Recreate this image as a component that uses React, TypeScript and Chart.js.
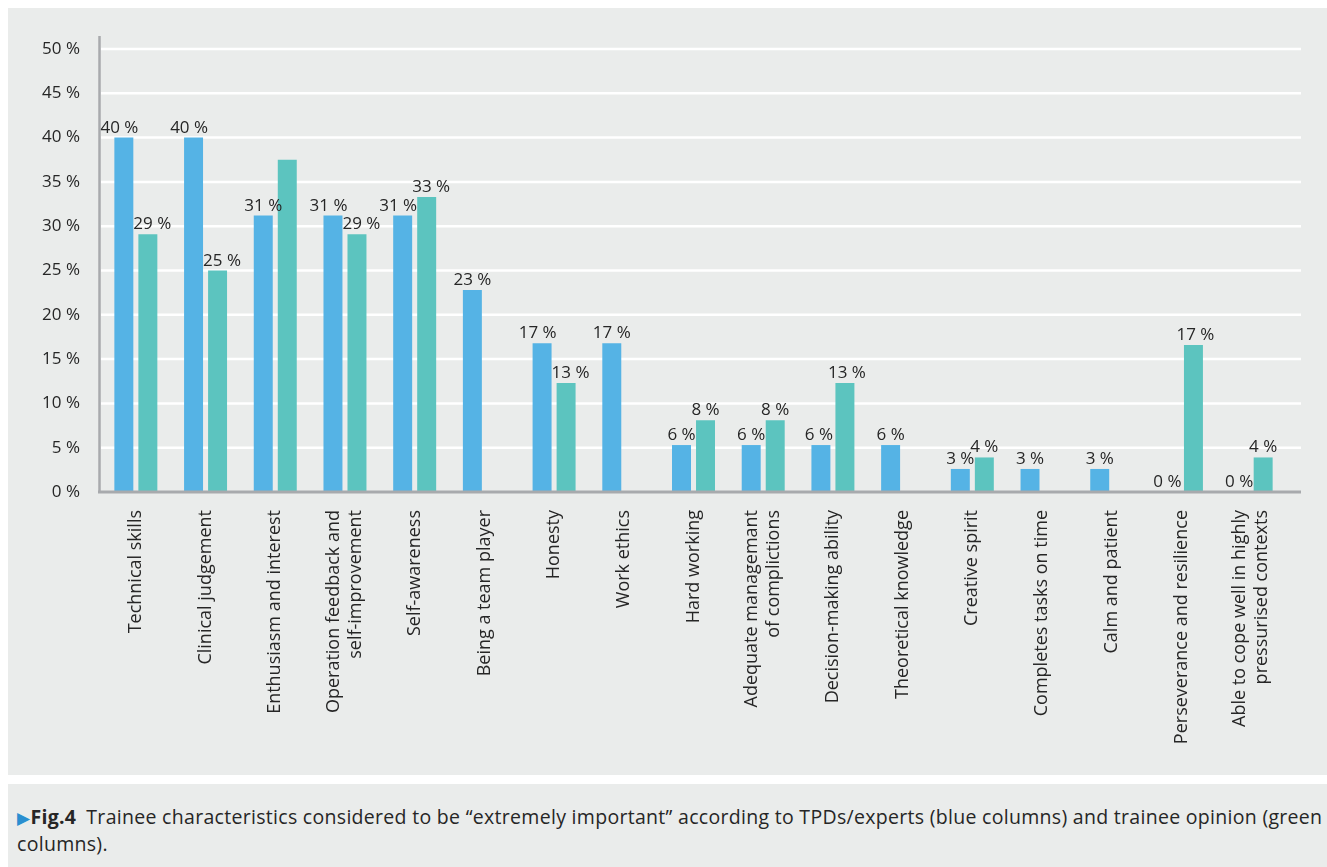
import React, { useEffect, useRef } from 'react';
import { Chart, registerables } from 'chart.js';

Chart.register(...registerables);

const categories: (string | string[])[] = [
  'Technical skills',
  'Clinical judgement',
  'Enthusiasm and interest',
  ['Operation feedback and', 'self-improvement'],
  'Self-awareness',
  'Being a team player',
  'Honesty',
  'Work ethics',
  'Hard working',
  ['Adequate managemant', 'of complictions'],
  'Decision-making ability',
  'Theoretical knowledge',
  'Creative spirit',
  'Completes tasks on time',
  'Calm and patient',
  'Perseverance and resilience',
  ['Able to cope well in highly', 'pressurised contexts'],
];

// TPDs/experts (blue columns)
const tpdValues: (number | null)[] = [40, 40, 31.2, 31.2, 31.2, 22.8, 16.8, 16.8, 5.3, 5.3, 5.3, 5.3, 2.6, 2.6, 2.6, 0, 0];
const tpdLabels: (string | null)[] = ['40 %', '40 %', '31 %', '31 %', '31 %', '23 %', '17 %', '17 %', '6 %', '6 %', '6 %', '6 %', '3 %', '3 %', '3 %', '0 %', '0 %'];

// Trainee opinion (green columns)
const traineeValues: (number | null)[] = [29.1, 25.0, 37.5, 29.1, 33.3, null, 12.3, null, 8.1, 8.1, 12.3, null, 3.9, null, null, 16.6, 3.9];
const traineeLabels: (string | null)[] = ['29 %', '25 %', null, '29 %', '33 %', null, '13 %', null, '8 %', '8 %', '13 %', null, '4 %', null, null, '17 %', '4 %'];

const yMin = 0;
const yMax = 50;
const yStep = 5;

const BLUE = '#55b3e5';
const GREEN = '#5cc4bf';
const BG = '#eaeceb';
const AXIS = '#a8aaad';
const TEXT = '#262626';
const FONT = '"Open Sans", "Noto Sans", sans-serif';

const decorPlugin = {
  id: 'decor',
  beforeDatasetsDraw(chart: any) {
    const { ctx, chartArea, scales } = chart;
    const y = scales.y;
    ctx.save();
    ctx.strokeStyle = '#ffffff';
    ctx.lineWidth = 2.5;
    for (let v = yMin + yStep; v <= yMax; v += yStep) {
      const py = y.getPixelForValue(v);
      ctx.beginPath();
      ctx.moveTo(chartArea.left, py);
      ctx.lineTo(chartArea.right + 15, py);
      ctx.stroke();
    }
    ctx.restore();
  },
  afterDatasetsDraw(chart: any) {
    const { ctx, chartArea, scales } = chart;
    const x = scales.x;
    // axis lines
    ctx.save();
    ctx.strokeStyle = AXIS;
    ctx.lineWidth = 2.5;
    ctx.beginPath();
    ctx.moveTo(chartArea.left - 1.5, chartArea.top - 13);
    ctx.lineTo(chartArea.left - 1.5, chartArea.bottom);
    ctx.stroke();
    ctx.lineWidth = 3;
    ctx.beginPath();
    ctx.moveTo(chartArea.left - 3, chartArea.bottom);
    ctx.lineTo(chartArea.right + 15, chartArea.bottom);
    ctx.stroke();

    // value labels
    ctx.font = `17px ${FONT}`;
    ctx.fillStyle = TEXT;
    ctx.textAlign = 'center';
    ctx.textBaseline = 'alphabetic';
    const labelSets = [tpdLabels, traineeLabels];
    const metas = [chart.getDatasetMeta(0), chart.getDatasetMeta(1)];
    for (let i = 0; i < categories.length; i++) {
      const items: { text: string; x: number; y: number; w: number }[] = [];
      for (let d = 0; d < 2; d++) {
        const text = labelSets[d][i];
        const el = metas[d].data[i];
        if (!text || !el) continue;
        const barTop = isFinite(el.y) ? el.y : chartArea.bottom;
        items.push({ text, x: el.x, y: barTop - 5, w: ctx.measureText(text).width });
      }
      if (items.length === 2) {
        const overlap = (items[0].w + items[1].w) / 2 - (items[1].x - items[0].x);
        const shift = Math.max(0, overlap - 5) / 2;
        items[0].x -= shift;
        items[1].x += shift;
      }
      for (const it of items) ctx.fillText(it.text, it.x, it.y);
    }

    // category labels (rotated)
    ctx.font = `18px ${FONT}`;
    const lineH = 22;
    for (let i = 0; i < categories.length; i++) {
      const lab = categories[i];
      const lines = Array.isArray(lab) ? lab : [lab];
      const px = x.getPixelForValue(i);
      ctx.save();
      ctx.translate(px, chartArea.bottom + 18);
      ctx.rotate(-Math.PI / 2);
      ctx.textAlign = 'right';
      ctx.textBaseline = 'middle';
      lines.forEach((ln, j) => {
        ctx.fillText(ln, 0, (j - (lines.length - 1) / 2) * lineH);
      });
      ctx.restore();
    }
    ctx.restore();
  },
};

function ChartPanel() {
  const ref = useRef<HTMLCanvasElement | null>(null);
  useEffect(() => {
    if (!ref.current) return;
    const chart = new Chart(ref.current, {
      type: 'bar',
      data: {
        labels: categories as any,
        datasets: [
          {
            label: 'TPDs/experts',
            data: tpdValues,
            backgroundColor: BLUE,
            borderWidth: 0,
            categoryPercentage: 0.689,
            barPercentage: 0.79,
          },
          {
            label: 'Trainees',
            data: traineeValues,
            backgroundColor: GREEN,
            borderWidth: 0,
            categoryPercentage: 0.689,
            barPercentage: 0.79,
          },
        ],
      },
      options: {
        responsive: false,
        animation: false,
        layout: { padding: { left: 0, right: 41, top: 41, bottom: 0 } },
        plugins: {
          legend: { display: false },
          tooltip: { enabled: false },
          title: { display: false },
        },
        scales: {
          x: {
            grid: { display: false, drawTicks: false },
            border: { display: false },
            ticks: { display: false },
            afterFit: (s: any) => {
              s.height = 283;
            },
          },
          y: {
            min: yMin,
            max: yMax,
            grid: { display: false, drawTicks: false },
            border: { display: false },
            ticks: {
              stepSize: yStep,
              padding: 21,
              color: TEXT,
              font: { family: FONT, size: 17 },
              callback: (v: any) => `${v} %`,
            },
            afterFit: (s: any) => {
              s.width = 93;
            },
          },
        },
      },
      plugins: [decorPlugin],
    });
    return () => chart.destroy();
  }, []);
  return <canvas ref={ref} width={1319} height={767} style={{ display: 'block' }} />;
}

export default function App() {
  return (
    <div style={{ position: 'fixed', left: 0, top: 0, width: 1327, height: 867, background: '#ffffff', overflow: 'hidden' }}>
      <div style={{ position: 'absolute', left: 8, top: 8, width: 1319, height: 767, background: BG }}>
        <ChartPanel />
      </div>
      <div
        style={{
          position: 'absolute',
          left: 8,
          top: 784,
          width: 1319,
          height: 83,
          background: BG,
          boxSizing: 'border-box',
          padding: '20px 9px 0 9px',
          fontFamily: FONT,
          fontSize: 19.5,
          lineHeight: '26px',
          color: TEXT,
          whiteSpace: 'nowrap',
          letterSpacing: '0.3px',
        }}
      >
        <div>
          <span style={{ color: '#2a8fd0', fontSize: 17, fontFamily: '"DejaVu Sans", sans-serif' }}>▶</span>
          <b>Fig.4</b>{'\u2002'}Trainee characteristics considered to be “extremely important” according to TPDs/experts (blue columns) and trainee opinion (green
        </div>
        <div>columns).</div>
      </div>
    </div>
  );
}
